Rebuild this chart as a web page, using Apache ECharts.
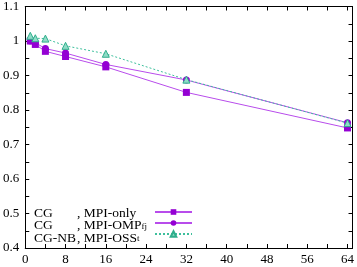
<!DOCTYPE html>
<html><head><meta charset="utf-8">
<script src="https://cdn.jsdelivr.net/npm/echarts@6/dist/echarts.min.js"></script>
<style>html,body{margin:0;padding:0;background:#fff}#c{width:357px;height:267px}</style>
</head><body><div id="c"></div>
<script>
const procs = [1, 2, 4, 8, 16, 32, 64];
const mpiOnly = [1.0, 0.99, 0.97, 0.955, 0.925, 0.851, 0.748];
const mpiOmpFj = [1.0, 0.995, 0.978, 0.965, 0.932, 0.887, 0.763];
const mpiOssT = [1.015, 1.008, 1.007, 0.986, 0.963, 0.888, 0.762];
const xTicks = [0, 8, 16, 24, 32, 40, 48, 56, 64];
const yTicks = [0.4, 0.5, 0.6, 0.7, 0.8, 0.9, 1, 1.1];

const FONT = 'Liberation Serif';
const pair = (xs, ys) => xs.map((x, i) => [x, ys[i]]);
const names = ['s1', 's2', 's3'];
const labels = {
  s1: '{a|CG}{b|, MPI-only}',
  s2: '{a|CG}{b|, MPI-OMP}{sub|fj}',
  s3: '{a|CG-NB}{b|, MPI-OSS}{sub|t}'
};
const chart = echarts.init(document.getElementById('c'), null, {renderer: 'canvas'});
const axisCommon = {
  axisLine: {show: true, onZero: false, lineStyle: {color: '#000', width: 1}},
  axisTick: {show: true, inside: true, length: 4, lineStyle: {color: '#000'}},
  minorTick: {show: true, splitNumber: 2, length: 4, lineStyle: {color: '#000'}},
  splitLine: {show: false}
};
chart.setOption({
  animation: false,
  textStyle: {fontFamily: FONT},
  grid: {left: 25, right: 4, top: 5, bottom: 19},
  xAxis: [
    Object.assign({type: 'value', min: 0, max: 65, interval: 8, position: 'bottom',
      axisLabel: {color: '#000', fontFamily: FONT, fontSize: 13, margin: 5,
        formatter: v => xTicks.includes(v) ? String(v) : ''}}, axisCommon),
    Object.assign({type: 'value', min: 0, max: 65, interval: 8, position: 'top',
      axisLabel: {show: false}}, axisCommon)
  ],
  yAxis: [
    Object.assign({type: 'value', min: 0.4, max: 1.1, interval: 0.1, position: 'left',
      axisLabel: {color: '#000', fontFamily: FONT, fontSize: 13, margin: 6,
        formatter: v => { const t = yTicks.find(k => Math.abs(k - v) < 1e-6); return t === undefined ? '' : String(t); }}}, axisCommon),
    Object.assign({type: 'value', min: 0.4, max: 1.1, interval: 0.1, position: 'right',
      axisLabel: {show: false}}, axisCommon)
  ],
  legend: [
    {
      orient: 'vertical', left: 154, top: 206, itemGap: -1, padding: 0,
      itemWidth: 37, itemHeight: 7, data: names, formatter: () => ' ',
      textStyle: {fontSize: 11, lineHeight: 12},
      selectedMode: false
    },
    {
      orient: 'vertical', left: 28, top: 206, itemGap: -2, padding: 0,
      itemWidth: 0, itemHeight: 0, icon: 'rect', data: names,
      itemStyle: {opacity: 0}, lineStyle: {opacity: 0}, selectedMode: false,
      formatter: n => labels[n],
      textStyle: {
        fontFamily: FONT, fontSize: 13.5, color: '#000', lineHeight: 11,
        rich: {
          a: {fontFamily: FONT, fontSize: 13.5, width: 43, color: '#000', lineHeight: 11},
          b: {fontFamily: FONT, fontSize: 13.5, color: '#000', lineHeight: 11},
          sub: {fontFamily: FONT, fontSize: 9, color: '#000', lineHeight: 8, verticalAlign: 'bottom', padding: [4, 0, 0, 0]}
        }
      }
    }
  ],
  series: [
    {name: 's1', type: 'line', data: pair(procs, mpiOnly), symbol: 'rect', symbolSize: 7,
      lineStyle: {color: '#b84ceb', width: 1}, itemStyle: {color: '#9400d3'}},
    {name: 's2', type: 'line', data: pair(procs, mpiOmpFj), symbol: 'circle', symbolSize: 7,
      lineStyle: {color: '#b84ceb', width: 1}, itemStyle: {color: '#9400d3'}},
    {name: 's3', type: 'line', data: pair(procs, mpiOssT), symbol: 'triangle', symbolSize: 7,
      lineStyle: {color: '#3dbf9c', width: 1, type: [2, 2]}, itemStyle: {color: '#8edcc6', borderColor: '#2fae8c', borderWidth: 1}}
  ]
});
</script></body></html>
